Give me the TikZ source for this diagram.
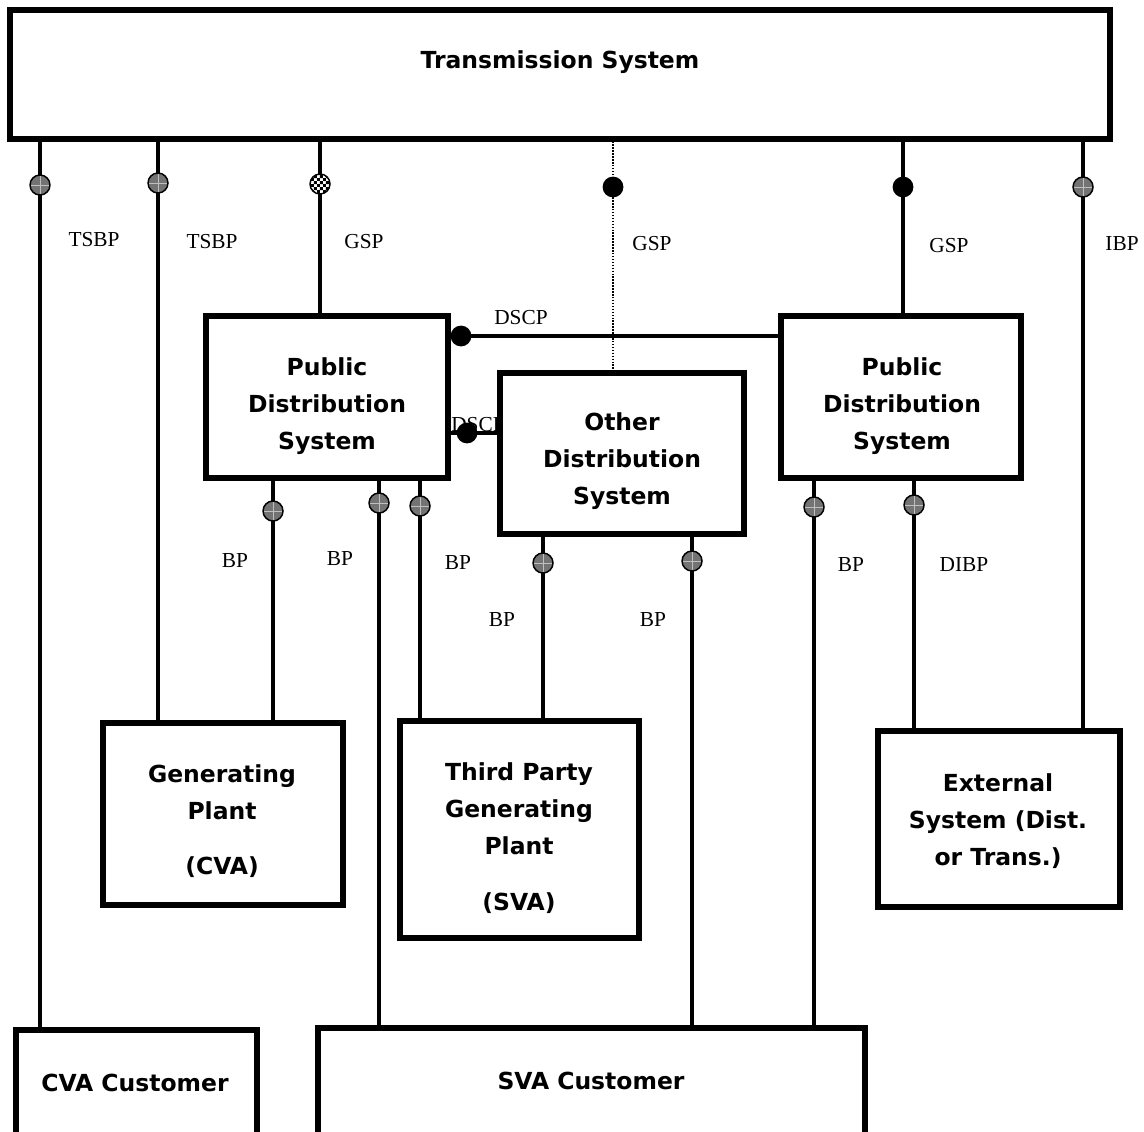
\documentclass[tikz,border=0pt]{standalone}
\usepackage{fontspec}
\usetikzlibrary{fit}
\usetikzlibrary{patterns}
\newfontfamily\boxfont{DejaVu Sans}
\newfontfamily\pointfont{Liberation Serif}
\pgfdeclarelayer{links}
\pgfsetlayers{links,main}
\pgfdeclarepatternformonly{finechecker}{\pgfpointorigin}{\pgfpoint{4.4pt}{4.4pt}}{\pgfpoint{4.4pt}{4.4pt}}{
    \pgfpathrectangle{\pgfpointorigin}{\pgfpoint{2.2pt}{2.2pt}}
    \pgfpathrectangle{\pgfpoint{2.2pt}{2.2pt}}{\pgfpoint{2.2pt}{2.2pt}}
    \pgfusepath{fill}
}
\def\markr{7.5pt}
\tikzset{
    sysbox/.style = {
        draw, rectangle, line width=4.5pt, fill=white, inner sep=0pt
    },
    boxtext/.style = {font=\boxfont\bfseries\fontsize{17.6}{28}\selectfont, align=center},
    ptlabel/.style = {font=\pointfont\fontsize{16}{18}\selectfont, anchor=base},
    link/.style = {line width=2.5pt},
    dottedlink/.style = {line width=1.1pt, dash pattern=on 1.1pt off 1.1pt},
}
\tikzset{
    bpmark/.pic = {
        \fill[black!55] (0,0) circle (\markr);
        \draw[black!25, line width=0.5pt] (-\markr,0) -- (\markr,0) (0,-\markr) -- (0,\markr);
        \draw[line width=1.1pt] (0,0) circle (\markr);
    },
    gspmark/.pic = {
        \fill[white] (0,0) circle (\markr);
        \fill[pattern=finechecker] (0,0) circle (\markr);
        \draw[line width=1.1pt] (0,0) circle (\markr);
    },
    dotmark/.pic = {
        \fill (0,0) circle (7.8pt);
    },
}
\begin{document}
\begin{tikzpicture}[x=0.75pt, y=-0.75pt]
        \useasboundingbox (0,0) rectangle (1144,1131);
        \clip (0,0) rectangle (1144,1131);
        % Place the systems
        \node[sysbox, fit={(10,10) (1109.5,138.5)}] (ts) {};
        \node[sysbox, fit={(205.5,316) (448,478)}] (pdsL) {};
        \node[sysbox, fit={(500,372.5) (743.5,534)}] (ods) {};
        \node[sysbox, fit={(781,316) (1021,478)}] (pdsR) {};
        \node[sysbox, fit={(102.5,722.5) (342.5,904.5)}] (gp) {};
        \node[sysbox, fit={(399.5,720.5) (638.5,937.5)}] (tpg) {};
        \node[sysbox, fit={(878,731) (1120,907)}] (ext) {};
        \node[sysbox, fit={(15.5,1029.5) (256.5,1180)}] (cva) {};
        \node[sysbox, fit={(318,1027.5) (864.5,1180)}] (sva) {};

        % Box texts
        \node[boxtext] (tsText) at (560,62) {Transmission System};
        \node[boxtext] (pdsLText) at (327,406) {Public\\Distribution\\System};
        \node[boxtext] (odsText) at (622,461) {Other\\Distribution\\System};
        \node[boxtext] (pdsRText) at (902,406) {Public\\Distribution\\System};
        \node[boxtext] (gpText) at (222,821) {Generating\\Plant\\[12.75pt](CVA)};
        \node[boxtext] (tpgText) at (519,838) {Third Party\\Generating\\Plant\\[14pt](SVA)};
        \node[boxtext] (extText) at (998,821) {External\\System (Dist.\\or Trans.)};
        \node[boxtext] (cvaText) at (135,1083) {CVA Customer};
        \node[boxtext] (svaText) at (591,1081) {SVA Customer};

        % Draw connections
        \begin{pgfonlayer}{links}
            \foreach \x/\from/\to in {40/ts/cva, 158/ts/gp, 320/ts/pdsL, 903/ts/pdsR, 1083/ts/ext,
                273/pdsL/gp, 379/pdsL/sva, 420/pdsL/tpg, 543/ods/tpg, 692/ods/sva, 814/pdsR/sva, 914/pdsR/ext}{
                \draw[link] (\from.south -| \x,0) -- (\to.north -| \x,0);
            }
            \draw[dottedlink] (ts.south -| 613,0) -- (ods.north -| 613,0);
            \draw[link] (pdsL.east |- 0,336) -- (pdsR.west |- 0,336);
            \draw[link] (pdsL.east |- 0,433) -- (ods.west |- 0,433);

            % Point labels
            \node[ptlabel] (tsbp1) at (94,246) {TSBP};
            \node[ptlabel] (tsbp2) at (212,248) {TSBP};
            \node[ptlabel] (gsp1) at (364,248) {GSP};
            \node[ptlabel] (gsp2) at (652,250) {GSP};
            \node[ptlabel] (gsp3) at (949,252) {GSP};
            \node[ptlabel] (ibp) at (1122,250) {IBP};
            \node[ptlabel] (dscp1) at (521,324) {DSCP};
            \node[ptlabel] (dscp2) at (478,431) {DSCP};
            \node[ptlabel] (bp1) at (235,567) {BP};
            \node[ptlabel] (bp2) at (340,565) {BP};
            \node[ptlabel] (bp3) at (458,569) {BP};
            \node[ptlabel] (bp4) at (502,626) {BP};
            \node[ptlabel] (bp5) at (653,626) {BP};
            \node[ptlabel] (bp6) at (851,571) {BP};
            \node[ptlabel] (dibp) at (964,571) {DIBP};
        \end{pgfonlayer}

        % Mark the points
        \foreach \x/\y in {40/185, 158/183, 1083/187, 273/511, 379/503, 420/506, 543/563, 692/561, 814/507, 914/505}{
            \pic at (\x,\y) {bpmark};
        }
        \pic at (320,184) {gspmark};
        \foreach \x/\y in {613/187, 903/187, 461/336, 467/433}{
            \pic at (\x,\y) {dotmark};
        }
\end{tikzpicture}
\end{document}
